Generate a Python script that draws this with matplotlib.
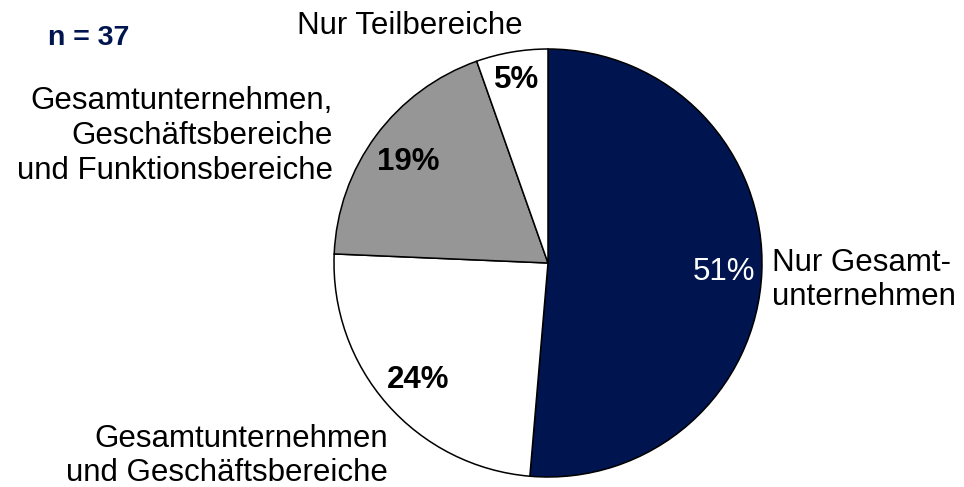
import matplotlib.pyplot as plt

plt.rcParams['font.family'] = ['Liberation Sans', 'DejaVu Sans']

labels = ['Nur Gesamt-\nunternehmen',
          'Gesamtunternehmen\nund Geschäftsbereiche',
          'Gesamtunternehmen,\nGeschäftsbereiche\nund Funktionsbereiche',
          'Nur Teilbereiche']
counts = [19, 9, 7, 2]
pct_labels = ['51%', '24%', '19%', '5%']
n_total = 37

navy = '#001550'
colors = [navy, 'white', '#969696', 'white']

fig = plt.figure(figsize=(9.64, 4.87), dpi=100)
ax = fig.add_axes([0, 0, 1, 1])

cx, cy, r = 548, 263, 214
# y axis is inverted below, so start at -90 and go counterclockwise in data
# space -> clockwise from the top on screen
wedges, _ = ax.pie(counts, colors=colors, startangle=-90, counterclock=True,
                   center=(cx, cy), radius=r, frame=True,
                   wedgeprops=dict(edgecolor='black', linewidth=1.1))
ax.set_xlim(0, 964)
ax.set_ylim(487, 0)
ax.set_aspect('equal')
ax.axis('off')

fs = 22.5
ls = 1.2
# percentage labels
ax.text(724, 272, pct_labels[0], color='white', fontsize=fs, ha='center', va='center')
ax.text(418, 380, pct_labels[1], fontsize=fs, fontweight='bold', ha='center', va='center')
ax.text(408, 162, pct_labels[2], fontsize=fs, fontweight='bold', ha='center', va='center')
ax.text(517, 80, pct_labels[3], fontsize=fs, fontweight='bold', ha='center', va='center')

# category labels
ax.text(772, 280, labels[0], fontsize=fs, ha='left', va='center', linespacing=ls)
ax.text(388, 456, labels[1], fontsize=fs, ha='right', va='center', multialignment='right', linespacing=ls)
ax.text(333, 136, labels[2], fontsize=fs, ha='right', va='center', multialignment='right', linespacing=ls)
ax.text(410, 26, labels[3], fontsize=fs, ha='center', va='center')

ax.text(48, 38, f'n = {n_total}', color=navy, fontsize=20.5, fontweight='bold',
        ha='left', va='center')

fig.savefig('out.png', dpi=100)
